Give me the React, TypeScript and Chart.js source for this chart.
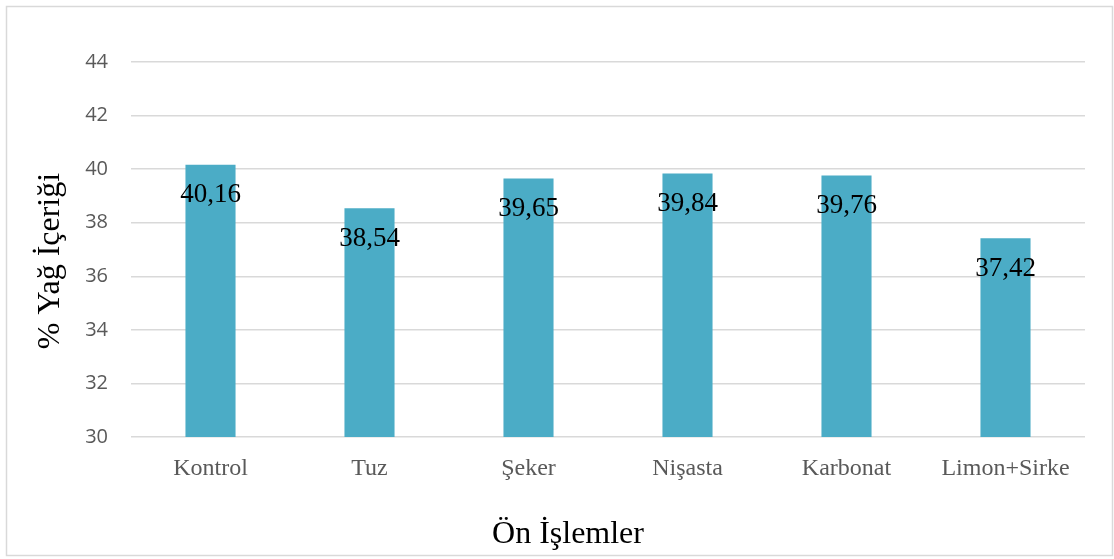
import React, { useEffect, useRef } from "react";
import { Chart, registerables } from "chart.js";

Chart.register(...registerables);

const categories: string[] = ["Kontrol", "Tuz", "Şeker", "Nişasta", "Karbonat", "Limon+Sirke"];
const fatValues: number[] = [40.16, 38.54, 39.65, 39.84, 39.76, 37.42];
const yTicks: number[] = [30, 32, 34, 36, 38, 40, 42, 44];
const xTitle = "Ön İşlemler";
const yTitle = "% Yağ İçeriği";

const BAR_COLOR = "#4BACC6";
const GRID_COLOR = "#D9D9D9";
const TICK_COLOR = "#595959";
const SERIF = "'Liberation Serif', 'Times New Roman', serif";

const framePlugin = {
  id: "frame",
  beforeDraw(chart: any) {
    const { ctx, width, height } = chart;
    ctx.save();
    ctx.fillStyle = "#ffffff";
    ctx.fillRect(0, 0, width, height);
    ctx.strokeStyle = GRID_COLOR;
    ctx.lineWidth = 1.5;
    ctx.strokeRect(6.5, 6.5, width - 8, height - 10);
    ctx.restore();
  },
};

const labelPlugin = {
  id: "barLabels",
  afterDatasetsDraw(chart: any) {
    const { ctx } = chart;
    const meta = chart.getDatasetMeta(0);
    ctx.save();
    ctx.font = `27px ${SERIF}`;
    ctx.fillStyle = "#000000";
    ctx.textAlign = "center";
    ctx.textBaseline = "alphabetic";
    meta.data.forEach((bar: any, i: number) => {
      const v = fatValues[i];
      ctx.fillText(v.toFixed(2).replace(".", ","), bar.x, bar.y + 37.5);
    });
    ctx.restore();
  },
};

const titlePlugin = {
  id: "axisTitles",
  afterDraw(chart: any) {
    const { ctx } = chart;
    ctx.save();
    ctx.font = `32px ${SERIF}`;
    ctx.fillStyle = "#000000";
    ctx.textAlign = "center";
    ctx.textBaseline = "alphabetic";
    ctx.fillText(xTitle, 568, 543);
    ctx.translate(59, 261);
    ctx.rotate(-Math.PI / 2);
    ctx.fillText(yTitle, 0, 0);
    ctx.restore();
  },
};

export default function App() {
  const canvasRef = useRef<HTMLCanvasElement | null>(null);

  useEffect(() => {
    document.body.style.margin = "0";
    const canvas = canvasRef.current;
    if (!canvas) return;
    const chart = new Chart(canvas, {
      type: "bar",
      data: {
        labels: categories,
        datasets: [
          {
            data: fatValues,
            backgroundColor: BAR_COLOR,
            borderWidth: 0,
            barPercentage: 0.315,
            categoryPercentage: 1,
          },
        ],
      },
      options: {
        responsive: false,
        animation: false,
        devicePixelRatio: 1,
        layout: { padding: { left: 0, top: 62, right: 29, bottom: 0 } },
        plugins: {
          legend: { display: false },
          tooltip: { enabled: false },
          title: { display: false },
        },
        scales: {
          x: {
            grid: { display: false, drawTicks: false },
            border: { display: false },
            ticks: {
              color: TICK_COLOR,
              font: { family: SERIF, size: 24 },
              padding: 17,
              maxRotation: 0,
              autoSkip: false,
            },
            afterFit(scale: any) {
              scale.height = 122;
            },
          },
          y: {
            min: 30,
            max: 44,
            afterBuildTicks(scale: any) {
              scale.ticks = yTicks.map((v) => ({ value: v }));
            },
            grid: { color: GRID_COLOR, lineWidth: 1.5, drawTicks: false },
            border: { display: false },
            ticks: {
              color: TICK_COLOR,
              font: { family: "'Open Sans', sans-serif", size: 20 },
              padding: 23,
            },
            afterFit(scale: any) {
              scale.width = 131;
            },
          },
        },
      },
      plugins: [framePlugin, labelPlugin, titlePlugin],
    });
    return () => chart.destroy();
  }, []);

  return (
    <div style={{ width: 1114, height: 559 }}>
      <canvas ref={canvasRef} width={1114} height={559} style={{ display: "block", width: 1114, height: 559 }} />
    </div>
  );
}
